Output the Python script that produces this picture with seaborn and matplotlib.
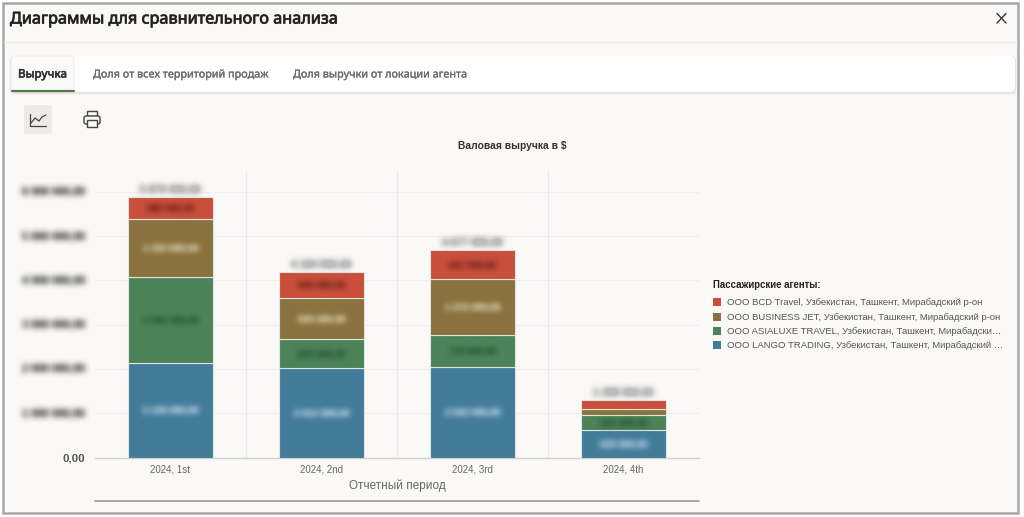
import numpy as np
import pandas as pd
import matplotlib
matplotlib.use("Agg")
import matplotlib.pyplot as plt
import matplotlib.patheffects as pe
from matplotlib.colors import to_rgb
from matplotlib.patches import Rectangle, FancyBboxPatch
import seaborn as sns

periods = ["2024, 1st", "2024, 2nd", "2024, 3rd", "2024, 4th"]
lango = [2126000, 2013000, 2043000, 620000]
asialuxe = [1942000, 655000, 715000, 332000]
business_jet = [1322000, 926000, 1272000, 136000]
bcd = [480000, 600000, 647000, 210000]

series_names = [
    "ООО LANGO TRADING, Узбекистан, Ташкент, Мирабадский …",
    "ООО ASIALUXE TRAVEL, Узбекистан, Ташкент, Мирабадски…",
    "ООО BUSINESS JET, Узбекистан, Ташкент, Мирабадский р-он",
    "ООО BCD Travel, Узбекистан, Ташкент, Мирабадский р-он",
]
series_colors = ["#437c9b", "#4d8359", "#8a713d", "#c94f3b"]
series_values = [lango, asialuxe, business_jet, bcd]
label_colors = ["#a9c8d8", "#2f5c3c", "#cfc3a2", "#7e2c20"]
ytick_values = [1000000, 2000000, 3000000, 4000000, 5000000, 6000000]
tab_labels = ["Выручка", "Доля от всех территорий продаж", "Доля выручки от локации агента"]


def fmt(v):
    return f"{v:,.2f}".replace(",", " ").replace(".", ",")


def smudge(color, radius=3, gain=2.0):
    # numbers in the reference are smudged, so smudge ours too
    rgb = to_rgb(color)

    def _filter(img, dpi):
        pad = radius * 3
        alpha = np.pad(img[:, :, 3], pad)
        kernel = np.ones(2 * radius + 1) / (2 * radius + 1)
        for _ in range(2):
            for axis in (0, 1):
                alpha = np.apply_along_axis(np.convolve, axis, alpha, kernel, mode="same")
        out = np.zeros(alpha.shape + (4,))
        out[:, :, 0], out[:, :, 1], out[:, :, 2] = rgb
        out[:, :, 3] = np.clip(alpha * gain, 0, 1)
        return out, -pad, -pad
    return _filter


def faux_bold(width):
    return [pe.withStroke(linewidth=width, foreground="#333333")]


sns.set_theme(style="whitegrid")
plt.rcParams["font.family"] = ["Liberation Sans", "DejaVu Sans"]
bg = "#faf9f7"

W, H = 1024, 517
fig = plt.figure(figsize=(W / 100, H / 100), dpi=100, facecolor=bg)

# page furniture, in pixels
ui = fig.add_axes([0, 0, 1, 1])
ui.set_xlim(0, W)
ui.set_ylim(H, 0)
ui.axis("off")
ui.add_patch(Rectangle((0, 0), W, H, fc="white", ec="none"))
ui.add_patch(Rectangle((3, 3), 1015, 509.5, fc=bg, ec="#a8a8a8", lw=1.8))
ui.plot([4, 1017], [42, 42], color="#ecebe8", lw=0.8)
ui.text(10, 19.5, "Диаграммы для сравнительного анализа", fontsize=11.7, family="Noto Sans",
        color="#222222", va="center", path_effects=faux_bold(0.6))
ui.plot([997, 1006], [13.5, 23], color="#333333", lw=1)
ui.plot([997, 1006], [23, 13.5], color="#333333", lw=1)

# soft shadow under the tab strip
for grow, shade in zip([3, 2, 1], ["#f2f1ef", "#ebeae8", "#e2e1df"]):
    ui.add_patch(FancyBboxPatch((11 - grow / 2, 56), 1004 + grow, 36 + grow,
                                boxstyle="round,pad=0,rounding_size=5", fc=shade, ec="none"))
ui.add_patch(FancyBboxPatch((11, 56), 1004, 36, boxstyle="round,pad=0,rounding_size=5", fc="white", ec="none"))
ui.add_patch(FancyBboxPatch((11, 56), 63, 35.5, boxstyle="round,pad=0,rounding_size=3", fc="#fbfafa", ec="#ecebe9", lw=0.6))
ui.plot([12, 74], [90.5, 90.5], color="#527a45", lw=1.6)
for x, lab, col, size, stroke in zip([18, 93, 293], tab_labels, ["#333333", "#6b6b6b", "#6b6b6b"],
                                     [8.4, 7.8, 7.8], [0.45, 0.2, 0.2]):
    ui.text(x, 75, lab, fontsize=size, family="Noto Sans", color=col, va="center",
            path_effects=[pe.withStroke(linewidth=stroke, foreground=col)])

# toolbar icons
ui.add_patch(FancyBboxPatch((24, 105), 28, 29, boxstyle="round,pad=0,rounding_size=2", fc="#ecebe9", ec="none"))
ui.plot([30, 30, 46], [114, 126, 126], color="#444444", lw=0.9)
ui.plot([31, 35, 39, 42, 46], [123, 118, 121, 117, 115], color="#444444", lw=0.9)
ui.add_patch(Rectangle((87, 111), 10, 5, fc="none", ec="#444444", lw=1))
ui.add_patch(FancyBboxPatch((84, 116), 16, 8, boxstyle="round,pad=0,rounding_size=2", fc=bg, ec="#444444", lw=1))
ui.add_patch(Rectangle((87, 120), 10, 7, fc=bg, ec="#444444", lw=1))

ax = fig.add_axes([95 / W, 1 - 457.5 / H, 604 / W, (457.5 - 171) / H], facecolor="none")

df = pd.DataFrame({"period": periods})
bottom = np.zeros(len(periods))
for name, values, color, lab_col in zip(series_names, series_values, series_colors, label_colors):
    df[name] = values
    sns.barplot(data=df, x="period", y=name, bottom=bottom, color=color, width=0.56, saturation=1,
                edgecolor="#dfe6e2", linewidth=0.8, ax=ax, zorder=3)
    for i, v in enumerate(values):
        if v > 300000:
            t = ax.text(i, bottom[i] + v / 2, fmt(v), ha="center", va="center", fontsize=6.8,
                        color=lab_col, weight="bold", zorder=5)
            t.set_agg_filter(smudge(lab_col))
    bottom = bottom + np.array(values)

for i, total in enumerate(bottom):
    t = ax.text(i, total + 60000, fmt(total), ha="center", va="bottom", fontsize=7.5, color="#bdbdbd",
                weight="bold", zorder=5)
    t.set_agg_filter(smudge("#bdbdbd", gain=3.0))

ax.set_xlim(-0.5, 3.5)
ax.set_ylim(0, (457.5 - 171) / 44.3 * 1000000)
ax.set_yticks([0] + ytick_values)
ax.set_yticklabels(["0,00"] + [""] * len(ytick_values))
ax.set_xticks([0.5, 1.5, 2.5], minor=True)
ax.set_xticks(range(len(periods)))
ax.set_xticklabels(periods, fontsize=7, color="#666666")
ax.tick_params(axis="x", which="both", length=0, pad=5)
ax.tick_params(axis="y", length=0, pad=7, labelsize=8.2, labelcolor="#555555")
ax.get_yticklabels()[0].set_fontweight("bold")
ax.grid(False)
ax.grid(True, axis="y", color="#eeeef2", lw=0.8, zorder=0)
ax.grid(True, axis="x", which="minor", color="#e8e8ee", lw=0.8, zorder=0)
for side in ["top", "right", "left"]:
    ax.spines[side].set_visible(False)
ax.spines["bottom"].set_color("#d0d0d0")
ax.spines["bottom"].set_linewidth(1)
ax.set_ylabel("")
ax.set_xlabel("Отчетный период", fontsize=8.5, color="#666666", labelpad=4)

for v in ytick_values:
    t = ax.text(-0.566, v, fmt(v), fontsize=7.8, weight="bold", color="#666666", ha="right", va="center", clip_on=False)
    t.set_agg_filter(smudge("#666666", gain=1.8))

ui.plot([95, 699], [501, 501], color="#a8a8a8", lw=1.4)
ui.text(512, 146, "Валовая выручка в $", fontsize=7.4, weight="bold", color="#333333", ha="center", va="center")

# legend, top entry first as in the chart
ui.text(713, 284.5, "Пассажирские агенты:", fontsize=6.9, weight="bold", color="#222222", va="center")
for y, name, color in zip([302, 316.5, 331, 345], series_names[::-1], series_colors[::-1]):
    ui.add_patch(Rectangle((713, y - 4), 8, 8, fc=color, ec="none"))
    ui.text(727, y + 0.5, name, fontsize=6.82, color="#555555", va="center")

fig.savefig("out.png", dpi=100, facecolor=fig.get_facecolor())
